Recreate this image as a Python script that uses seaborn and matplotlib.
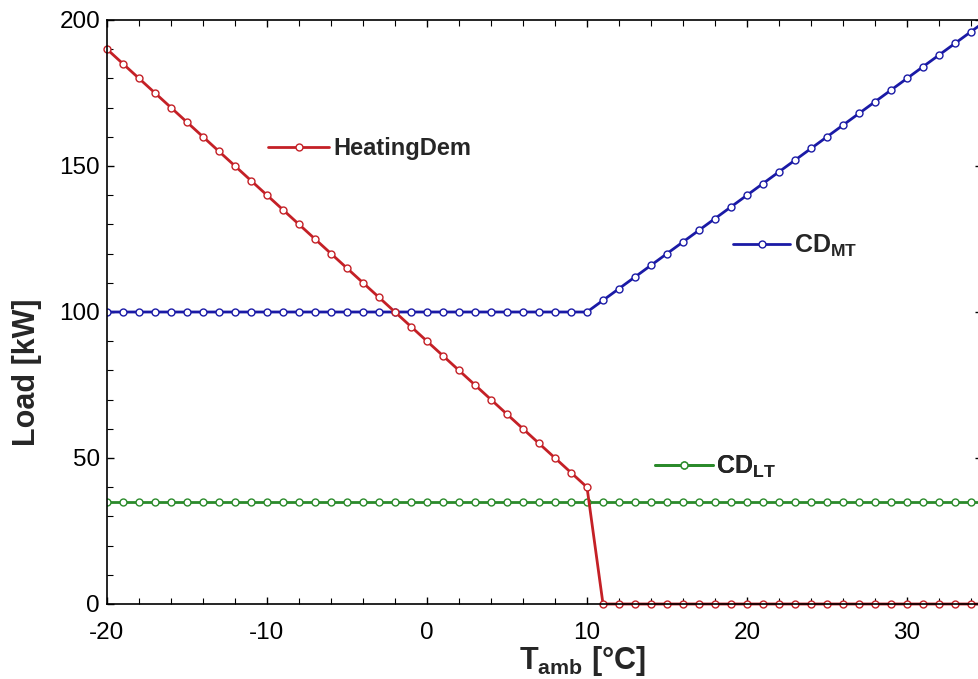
import numpy as np
import pandas as pd
import matplotlib
matplotlib.use("Agg")
import matplotlib.pyplot as plt
import seaborn as sns
from matplotlib.ticker import MultipleLocator
from matplotlib.lines import Line2D

# ---- data ----
t_amb = list(range(-20, 36))
heating_dem = [190, 185, 180, 175, 170, 165, 160, 155, 150, 145,
               140, 135, 130, 125, 120, 115, 110, 105, 100, 95,
               90, 85, 80, 75, 70, 65, 60, 55, 50, 45,
               40] + [0] * 25
cd_mt = [100] * 31 + [104, 108, 112, 116, 120, 124, 128, 132, 136, 140,
                      144, 148, 152, 156, 160, 164, 168, 172, 176, 180,
                      184, 188, 192, 196, 200]
cd_lt = [35] * 56

x_ticks = [-20, -10, 0, 10, 20, 30]
y_ticks = [0, 50, 100, 150, 200]

red = "#c42026"
blue = "#1a1aa6"
green = "#2a8a2a"

sns.set_style("ticks")
plt.rcParams["font.family"] = ["Liberation Sans", "DejaVu Sans"]
plt.rcParams["mathtext.fontset"] = "custom"
plt.rcParams["mathtext.rm"] = "Liberation Sans"
plt.rcParams["mathtext.bf"] = "Liberation Sans:bold"
plt.rcParams["mathtext.it"] = "Liberation Sans:italic"
plt.rcParams["axes.unicode_minus"] = False

df = pd.DataFrame({"T": t_amb, "HeatingDem": heating_dem, "CD_MT": cd_mt, "CD_LT": cd_lt})

fig = plt.figure(figsize=(9.79, 6.79), dpi=100)
ax_w = 982 - 107
ax = fig.add_axes([107 / 979, 1 - 604 / 679, ax_w / 979, 584 / 679])

mk = dict(marker="o", markersize=5, markerfacecolor="white", markeredgewidth=1.0)
sns.lineplot(data=df, x="T", y="CD_LT", ax=ax, color=green, linewidth=2, markeredgecolor=green, **mk)
sns.lineplot(data=df, x="T", y="CD_MT", ax=ax, color=blue, linewidth=2, markeredgecolor=blue, **mk)
sns.lineplot(data=df, x="T", y="HeatingDem", ax=ax, color=red, linewidth=2, markeredgecolor=red, clip_on=False, **mk)

ax.set_xlim(-20, -20 + ax_w / 16)
ax.set_ylim(0, 200)
ax.set_xticks(x_ticks)
ax.set_yticks(y_ticks)
ax.xaxis.set_minor_locator(MultipleLocator(2))
ax.yaxis.set_minor_locator(MultipleLocator(10))
ax.tick_params(which="both", direction="in", top=True, right=True, colors="black")
ax.tick_params(which="minor", right=False)
ax.tick_params(which="major", length=5, width=1, labelsize=17.5)
ax.tick_params(which="minor", length=4, width=0.8)
ax.tick_params(axis="x", which="major", pad=13)
ax.tick_params(axis="y", which="major", pad=5)
for s in ax.spines.values():
    s.set_color("black")
    s.set_linewidth(1.2)

ax.set_xlabel(r"$\mathbf{T_{amb}}$ [°C]", fontsize=22, fontweight="bold")
ax.set_ylabel("Load [kW]", fontsize=22, fontweight="bold")
ax.xaxis.label.set_va("center")
ax.yaxis.label.set_va("center")
ax.xaxis.set_label_coords((582 - 107) / ax_w, (604 - 661) / 584)
ax.yaxis.set_label_coords((27 - 107) / ax_w, (604 - 372) / 584)

def add_leg(label, color, x, y, hl, size):
    h = Line2D([], [], color=color, linewidth=2, marker="o", markersize=5,
               markerfacecolor="white", markeredgecolor=color)
    leg = ax.legend([h], [label], loc="center left", bbox_to_anchor=(x, y),
                    frameon=False, borderpad=0, borderaxespad=0, handlelength=hl,
                    handletextpad=0.15, prop={"weight": "bold", "size": size})
    ax.add_artist(leg)

add_leg("HeatingDem", red, (268 - 107) / ax_w, (604 - 149) / 584, 2.6, 17)
add_leg(r"$\mathbf{CD_{MT}}$", blue, (733 - 107) / ax_w, (604 - 246) / 584, 2.3, 18)
add_leg(r"$\mathbf{CD_{LT}}$", green, (655 - 107) / ax_w, (604 - 467) / 584, 2.3, 18)

fig.savefig("out.png", dpi=100)
